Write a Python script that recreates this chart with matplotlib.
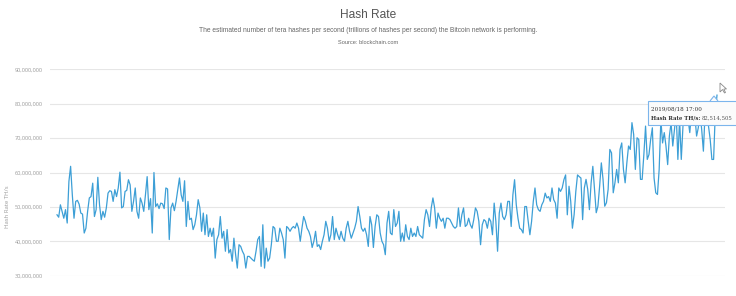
import matplotlib
matplotlib.use("Agg")
import matplotlib.pyplot as plt
from matplotlib.patches import Rectangle, Polygon
from matplotlib.ticker import FuncFormatter

# ---- data (millions of TH/s) ----
hash_rate_part1 = [47.7,47.0,50.6,48.7,46.7,49.2,45.3,57.4,61.8,53.5,46.7,51.6,51.9,50.8,48.2,47.9,42.4,43.8,48.7,52.6,
    53.0,56.9,47.2,49.2,58.6,50.6,46.3,48.7,47.0,49.7,54.0,54.7,54.5,51.6,55.0,53.0,55.5,60.1,49.7,50.1,
    54.5,54.8,57.9,56.4,48.7,51.6,55.5,48.7,46.7,52.6,51.1,48.7,53.5,58.8,49.2,52.4,42.4,60.0,50.1,50.9,
    49.5,51.1,50.9,49.5,55.5,55.2,40.5,49.7,51.1,48.9,51.6,55.0,58.4,53.5,51.6,57.6,44.3,51.6,46.3,46.7,
    43.4,44.8,47.7,52.1,49.7,42.9,48.2,41.9,47.7,41.4,43.8,41.4,43.8,35.1,40.5,41.9,47.2,40.9,42.9,37.1,
    43.4,36.6,37.6,34.2,40.9,36.1,32.2,39.0]
hash_rate_part2 = [38.5,37.1,36.1,32.2,35.6,35.6,35.1,34.6,34.2,37.1,40.5,41.4,32.7,44.8,32.2,38.0,34.2,35.1,39.0,44.3,
    43.8,40.0,40.0,43.8,42.4,40.5,35.1,44.3,43.8,42.9,43.8,44.3,43.8,45.3,43.8,40.0,43.8,47.2,45.8,43.8,
    42.9,41.4,38.2,40.0,42.9,38.5,39.0,37.6,40.0,41.9,45.8,43.8,40.0,41.9,47.2,40.5,43.8,41.9,40.5,42.9,
    40.9,40.0,43.8,45.8,42.9,40.9,42.4,43.8,45.8,50.1,47.2,43.8,42.9,43.8,41.9,38.5,47.2,44.8,38.2,44.3,
    47.7,47.2,42.4,40.0,39.0,36.1,45.3,48.7,42.4,41.9,49.2,44.3,45.3,48.7,40.0,42.4,40.0,44.8,41.4,40.5,
    43.8,41.4,42.4,41.4,44.3,41.9,41.4,40.9,46.3,49.2,47.7,44.3,49.7,52.6,49.7,43.8,48.2,46.7,45.8,46.7,
    43.8,46.7,46.7,46.3,45.3,44.3,43.8,44.3,49.7,44.3,47.7,49.7,44.3,44.8,46.7,44.8,43.8,46.3,49.7,48.7,
    45.8,39.0,44.8]
hash_rate_part3 = [46.3,45.8,43.8,46.7,45.8,41.9,51.1,45.8,37.1,48.2,51.1,47.2,46.3,47.7,51.6,51.6,44.3,53.5,57.9,50.6,
    46.7,43.8,43.4,42.4,50.1,50.1,45.8,41.9,45.8,51.6,55.5,50.6,49.2,48.7,50.6,51.6,54.0,52.6,53.0,51.6,
    55.5,52.1,51.1,46.7,55.5,54.5,55.5,57.9,59.3,47.7,56.0,51.6,43.8,47.7,54.5,59.3,58.8,58.4,46.3,55.5]
hash_rate_part4 = [58.0,55.1,49.2,57.0,61.8,55.1,48.3,50.2,56.0,62.8,58.0,50.2,51.2,55.1,66.7,65.7,54.1,57.0,60.9,57.0,
    66.7,68.6,60.9,57.0,62.8,67.7,66.7,74.5,71.1,60.9,70.1,69.6,58.0,58.0,65.2,73.5,63.8,65.2,69.6,73.0,
    58.4,54.1,53.6,60.9,75.4,68.6,71.6,67.7,62.3,70.6,74.5,67.7,72.5,77.4,63.8,75.4,63.8,73.5,77.4,76.4,
    75.4,71.6,77.4,74.5,76.4,70.6,73.0,77.4,72.5,66.2,77.4,75.4,73.5,69.6,63.8,63.8,77.4,82.5]
hash_rate = hash_rate_part1 + hash_rate_part2 + hash_rate_part3 + hash_rate_part4
y_ticks = [30, 40, 50, 60, 70, 80, 90]

title = "Hash Rate"
subtitle = "The estimated number of tera hashes per second (trillions of hashes per second) the Bitcoin network is performing."
source = "Source: blockchain.com"
y_label = "Hash Rate TH/s"
tip_date = "2019/08/18 17:00"
tip_label = "Hash Rate TH/s:"
tip_value = "82,514,505"

W, H = 736, 296
fig = plt.figure(figsize=(W / 100, H / 100), dpi=100)
fig.patch.set_facecolor("white")

def fx(px):
    return px / W

def fy(py):
    return 1 - py / H

ax = fig.add_axes([fx(50), fy(276), fx(725) - fx(50), fy(69) - fy(276)])
n = len(hash_rate)
s = 660 / (n - 1)
ax.set_xlim(-7 / s, n - 1 + 8 / s)
ax.set_ylim(29.9, 90.1)
ax.plot(range(n), hash_rate, color="#3d9fd6", lw=0.9, solid_joinstyle="round", zorder=3, clip_on=False)

ax.set_yticks(y_ticks)
ax.yaxis.set_major_formatter(FuncFormatter(lambda v, p: f"{int(round(v * 1e6)):,}"))
ax.tick_params(axis="y", length=0, pad=5, labelsize=4.1, labelcolor="#9a9a9a")
for lab in ax.get_yticklabels():
    lab.set_family("Open Sans")
ax.set_xticks([])
ax.grid(axis="y", color="#e6e6e6", lw=0.8)
for sp in ax.spines.values():
    sp.set_visible(False)
ax.set_axisbelow(True)

fig.text(fx(8), fy(207), y_label, rotation=90, ha="center", va="center",
         fontsize=4.3, color="#9a9a9a", family="Open Sans")

fig.text(0.5, fy(15), title, ha="center", va="center", fontsize=8.6, color="#555555", family="Liberation Sans")
fig.text(0.5, fy(31), subtitle, ha="center", va="center", fontsize=4.75, color="#666666", family="Liberation Sans")
fig.text(0.5, fy(42), source, ha="center", va="center", fontsize=4.1, color="#666666", family="Liberation Sans")

# tooltip
box = Rectangle((fx(648), fy(125)), fx(740) - fx(648), fy(101) - fy(125), transform=fig.transFigure,
                facecolor="#fbfbfb", edgecolor="#7cb5ec", lw=0.8, zorder=10)
fig.add_artist(box)
pin = Polygon([(fx(710), fy(101)), (fx(714), fy(96)), (fx(718), fy(101))], closed=False,
              transform=fig.transFigure, facecolor="#fbfbfb", edgecolor="#7cb5ec", lw=0.8, zorder=11)
fig.add_artist(pin)
fig.text(fx(651), fy(109), tip_date, ha="left", va="center", fontsize=4.1, color="#333333",
         family="DejaVu Serif", zorder=12)
t2 = fig.text(fx(651), fy(118), tip_label, ha="left", va="center", fontsize=3.9, color="#333333",
              family="DejaVu Serif", weight="bold", zorder=12)
fig.canvas.draw()
bb = t2.get_window_extent(renderer=fig.canvas.get_renderer())
fig.text(bb.x1 / W + fx(1.5), fy(118), tip_value, ha="left", va="center", fontsize=3.9, color="#555555",
         family="DejaVu Serif", zorder=12)

# mouse cursor
cursor = Polygon([(fx(720), fy(83)), (fx(720), fy(92)), (fx(722.5), fy(89.5)), (fx(724.5), fy(93)),
                  (fx(725.5), fy(92.5)), (fx(723.8), fy(89)), (fx(726.5), fy(89))], closed=True,
                 transform=fig.transFigure, facecolor="white", edgecolor="#888888", lw=0.6, zorder=12)
fig.add_artist(cursor)

fig.savefig("out.png", dpi=100, facecolor="white")
